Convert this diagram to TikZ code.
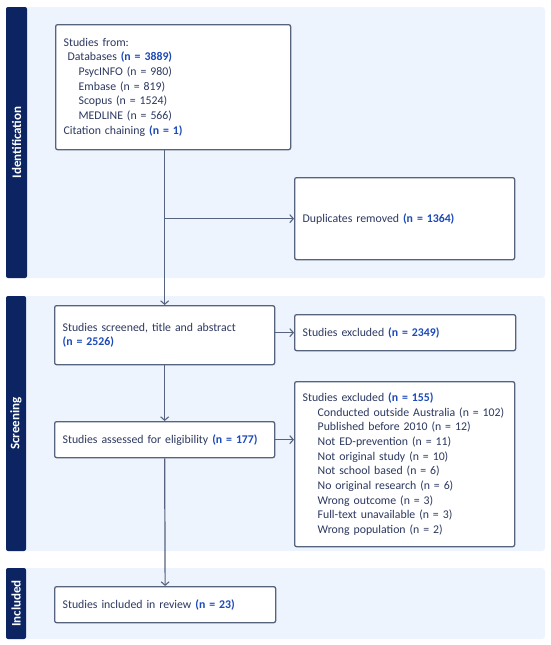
\documentclass[tikz,border=0pt]{standalone}
\usepackage{fontspec}
\setmainfont{Carlito}
\usetikzlibrary{arrows.meta,calc}
\definecolor{navy}{HTML}{0C2461}
\definecolor{panelbg}{HTML}{EEF4FE}
\definecolor{txt}{HTML}{2C3860}
\definecolor{num}{HTML}{1C4AB8}
\definecolor{edge}{HTML}{56637E}
\newcommand{\nn}[1]{\textbf{\color{num}#1}}
\newcommand{\ind}{\hspace*{15pt}}
\tikzset{
  panel/.style={fill=panelbg, draw=none, rounded corners=3pt},
  sidebar/.style={fill=navy, draw=none, rounded corners=2pt},
  sidelabel/.style={text=white, font=\bfseries\fontsize{13}{15}\selectfont, rotate=90, inner sep=0pt},
  box/.style={draw=edge, line width=1.3pt, fill=white, rounded corners=2pt, text=txt,
    font=\fontsize{11.8}{14.7}\selectfont, align=left, inner xsep=8pt, inner ysep=0pt, anchor=north west},
  arr/.style={draw=edge, line width=1.2pt, -{Straight Barb[length=3.5pt,width=8pt,line width=1.1pt]}},
}
\begin{document}
\begin{tikzpicture}[x=1pt,y=-1pt]
\useasboundingbox (0,0) rectangle (550,645);
% panels
\fill[panel] (6,7) rectangle (545,278);
\fill[panel] (6,296) rectangle (545,551);
\fill[panel] (6,568) rectangle (545,639);
\fill[sidebar] (6,7) rectangle (27,278);
\fill[sidebar] (6,296) rectangle (26,551);
\fill[sidebar] (6,568) rectangle (26,639);
\node[sidelabel] (lid) at (16.5,142.5) {Identification};
\node[sidelabel] (lsc) at (16,423.5) {Screening};
\node[sidelabel] (lin) at (16,603.5) {Included};
% boxes
\node[box, minimum width=235pt, minimum height=125pt, text width=219pt] (src) at (55,24)
 {Studies from:\\
  \hspace*{4pt}Databases \nn{(n = 3889)}\\
  \ind PsycINFO (n = 980)\\
  \ind Embase (n = 819)\\
  \ind Scopus (n = 1524)\\
  \ind MEDLINE (n = 566)\\
  Citation chaining \nn{(n = 1)}};
\node[box, minimum width=220pt, minimum height=82pt, text width=204pt] (dup) at (294,177)
 {Duplicates removed \nn{(n = 1364)}};
\node[box, minimum width=220pt, minimum height=59pt, text width=204pt] (scr) at (54,305)
 {Studies screened, title and abstract\\ \nn{(n = 2526)}};
\node[box, minimum width=221pt, minimum height=36pt, text width=205pt] (ex1) at (294,314)
 {Studies excluded \nn{(n = 2349)}};
\node[box, minimum width=220pt, minimum height=36pt, text width=204pt] (ass) at (54,421)
 {Studies assessed for eligibility \nn{(n = 177)}};
\node[box, minimum width=220pt, minimum height=165pt, text width=204pt] (ex2) at (294,381)
 {Studies excluded \nn{(n = 155)}\\
  \ind Conducted outside Australia (n = 102)\\
  \ind Published before 2010 (n = 12)\\
  \ind Not ED-prevention (n = 11)\\
  \ind Not original study (n = 10)\\
  \ind Not school based (n = 6)\\
  \ind No original research (n = 6)\\
  \ind Wrong outcome (n = 3)\\
  \ind Full-text unavailable (n = 3)\\
  \ind Wrong population (n = 2)};
\node[box, minimum width=221pt, minimum height=36pt, text width=205pt] (inc) at (54,586)
 {Studies included in review \nn{(n = 23)}};
% connectors
\draw[arr] (src.south -| scr.north) -- (scr.north);
\draw[arr] (dup.west -| scr.north) -- (dup.west);
\draw[arr] (scr.east |- ex1.west) -- (ex1.west);
\draw[arr] (scr.south) -- (ass.north);
\draw[arr] (ass.east) -- (ass.east -| ex2.west);
\draw[arr] (ass.south) -- (inc.north);
\end{tikzpicture}
\end{document}
